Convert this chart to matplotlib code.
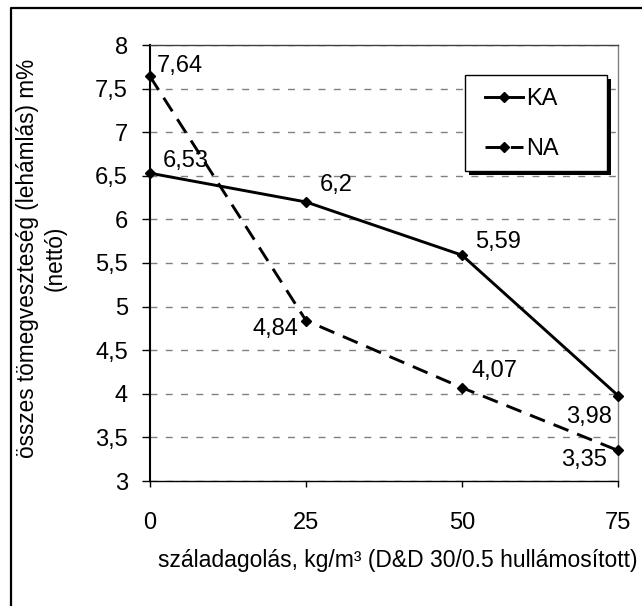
import matplotlib
matplotlib.use("Agg")
import matplotlib.pyplot as plt
from matplotlib.lines import Line2D
from matplotlib.patches import Rectangle
from matplotlib.ticker import FuncFormatter, MultipleLocator

plt.rcParams['font.family'] = ['Liberation Sans', 'DejaVu Sans']

# adatok
adagolas = [0, 25, 50, 75]
ka = [6.53, 6.2, 5.59, 3.98]
na = [7.64, 4.84, 4.07, 3.35]
ka_labels = ["6,53", "6,2", "5,59", "3,98"]
na_labels = ["7,64", "4,84", "4,07", "3,35"]

W, H = 642, 606
fig = plt.figure(figsize=(W / 100, H / 100), dpi=100)
ax = fig.add_axes([150 / W, 1 - 481 / H, 468 / W, 436 / H])

ax.plot(adagolas, ka, color='black', lw=2.1, marker='D', markersize=5, label='KA', zorder=3,
        clip_on=False)
ax.plot(adagolas, na, color='black', lw=2.1, ls=(0, (5.5, 3.2)), marker='D', markersize=5,
        label='NA', zorder=3, clip_on=False)

ax.set_xlim(0, 75)
ax.set_ylim(3, 8)
ax.set_xticks(adagolas)
ax.yaxis.set_major_locator(MultipleLocator(0.5))
ax.yaxis.set_major_formatter(FuncFormatter(lambda v, p: f"{v:g}".replace('.', ',')))
ax.tick_params(axis='y', direction='out', length=5.8, width=1, pad=10, labelsize=17)
ax.tick_params(axis='x', direction='out', length=4.3, width=1, pad=18, labelsize=17)
ax.yaxis.grid(True, color='#808080', lw=1, ls=(0, (5, 6)))
ax.set_axisbelow(True)

ax.spines['left'].set_linewidth(1.5)
ax.spines['bottom'].set_linewidth(1.0)
ax.spines['top'].set_color('#404040')
ax.spines['top'].set_linewidth(1.0)
ax.spines['right'].set_color('#808080')
ax.spines['right'].set_linewidth(1.0)

# adatfeliratok (eltolás pixelben)
ka_off = [(13, 12, 'left'), (14, 17, 'left'), (13, 13, 'left'), (-6, -21, 'right')]
na_off = [(7, 10, 'left'), (-8, -8, 'right'), (10, 17, 'left'), (-11, -10, 'right')]
for x, y, t, (dx, dy, ha) in zip(adagolas, ka, ka_labels, ka_off):
    ax.annotate(t, (x, y), xytext=(dx, dy), textcoords='offset pixels', ha=ha, va='center',
                fontsize=17, annotation_clip=False)
for x, y, t, (dx, dy, ha) in zip(adagolas, na, na_labels, na_off):
    ax.annotate(t, (x, y), xytext=(dx, dy), textcoords='offset pixels', ha=ha, va='center',
                fontsize=17, annotation_clip=False)

# jelmagyarázat: keret + árnyék külön, a bejegyzések a legend-ből
fig.add_artist(Rectangle((469 / W, 1 - 175 / H), 142 / W, 96 / H, transform=fig.transFigure,
                         facecolor='black', edgecolor='none', zorder=4))
fig.add_artist(Rectangle((465 / W, 1 - 171 / H), 142 / W, 96 / H, transform=fig.transFigure,
                         facecolor='white', edgecolor='black', lw=1.0, zorder=5))
leg = ax.legend(loc='upper left', bbox_to_anchor=(485 / W, 1 - 88 / H),
                bbox_transform=fig.transFigure, borderaxespad=0, borderpad=0,
                fontsize=17, frameon=False, handlelength=1.6, handletextpad=0.15,
                labelspacing=1.2)
leg.set_zorder(6)
leg.remove()
fig.add_artist(leg)

fig.text(41 / W, 1 - 258 / H, "összes tömegveszteség (lehámlás) m%\n(nettó)", rotation=90,
         ha='center', va='center', multialignment='center', fontsize=16.3, linespacing=1.25)
fig.text(398 / W, 1 - 560 / H, "száladagolás, kg/m³ (D&D 30/0.5 hullámosított)",
         ha='center', va='center', fontsize=16.5)

# külső keret (csak felső és bal oldal látszik)
fig.add_artist(Line2D([11 / W, 11 / W, 1.0], [0.0, 1 - 8 / H, 1 - 8 / H], transform=fig.transFigure,
                      color='black', lw=1.6))

fig.savefig("out.png", dpi=100)
